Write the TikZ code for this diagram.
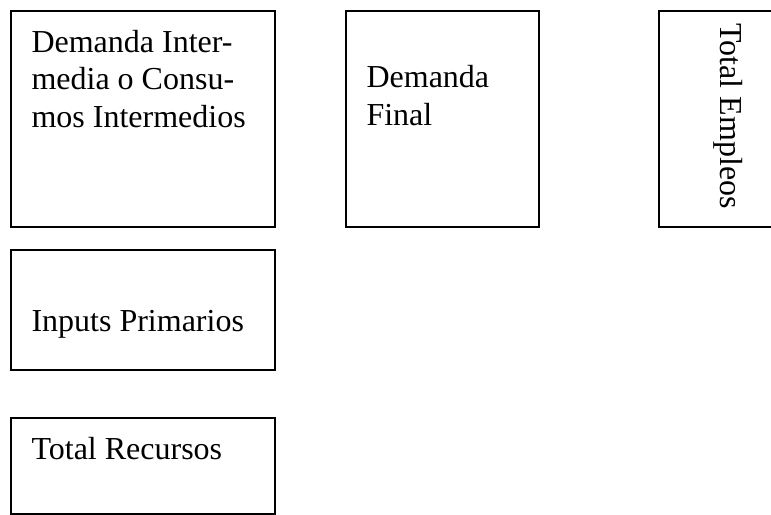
\documentclass[tikz,border=0pt]{standalone}
\usepackage{fontspec}
\setmainfont{Liberation Serif}
\usetikzlibrary{positioning}
\begin{document}
\begin{tikzpicture}[x=0.375pt,y=-0.375pt,
	caja/.style={draw,line width=0.75pt,inner sep=0pt,anchor=north west},
	texto/.style={inner sep=0pt,anchor=base west,font=\fontsize{12}{13.8}\selectfont}]

	% page size
	\useasboundingbox (0,0) rectangle (771,514);
	\clip (0,0) rectangle (771,514);

	% boxes
	\node[caja,minimum width=264*0.375pt,minimum height=216*0.375pt] (demInt) at (10,10) {};
	\node[caja,minimum width=193*0.375pt,minimum height=216*0.375pt] (demFin) at (345,10) {};
	\node[caja,minimum width=150*0.375pt,minimum height=216*0.375pt] (totEmp) at (658,10) {};
	\node[caja,minimum width=264*0.375pt,minimum height=120*0.375pt] (inpPri) at (10,249) {};
	\node[caja,minimum width=264*0.375pt,minimum height=96*0.375pt]  (totRec) at (10,417) {};

	% texts
	\node[texto] (demIntA) at ([shift={(21,42)}]demInt.north west)    {Demanda Inter-};
	\node[texto] (demIntB) at ([shift={(21,79.5)}]demInt.north west)  {media o Consu-};
	\node[texto] (demIntC) at ([shift={(21,117)}]demInt.north west)   {mos Intermedios};

	\node[texto] (demFinA) at ([shift={(21,77)}]demFin.north west)  {Demanda};
	\node[texto] (demFinB) at ([shift={(21,115)}]demFin.north west) {Final};

	\node[texto,rotate=-90] (totEmpA) at ([shift={(62,13)}]totEmp.north west) {Total Empleos};

	\node[texto] (inpPriA) at ([shift={(21,82)}]inpPri.north west) {Inputs Primarios};
	\node[texto] (totRecA) at ([shift={(21,42)}]totRec.north west) {Total Recursos};

\end{tikzpicture}
\end{document}
